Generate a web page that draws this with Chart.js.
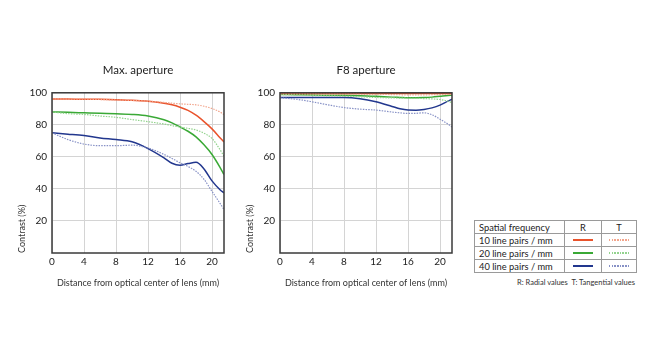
<!DOCTYPE html>
<html>
<head>
<meta charset="utf-8">
<script src="https://cdn.jsdelivr.net/npm/chart.js@4"></script>
<style>
  body { margin: 0; background: #fff; width: 660px; height: 363px; position: relative; font-family: Lato, "Open Sans", sans-serif; color: #222; }
  canvas { position: absolute; top: 0; }
  #legend { position: absolute; left: 474px; top: 220px; border-collapse: collapse; font-size: 9.3px; }
  #legend td { border: 1px solid #9a9a9a; height: 12px; padding: 0 0 0 4px; white-space: nowrap; }
  #legend td.c { text-align: center; padding: 0; }
  .sw { display: block; width: 20px; height: 1.5px; margin: 0 auto; }
  #note { position: absolute; left: 474px; width: 161px; top: 278px; text-align: right; font-size: 7.5px; color: #333; }
</style>
</head>
<body>
<canvas id="maxChart" width="240" height="300" style="left:0"></canvas>
<canvas id="f8Chart" width="240" height="300" style="left:228px"></canvas>

<table id="legend">
  <tr><td style="width:85px">Spatial frequency</td><td class="c" style="width:36px">R</td><td class="c" style="width:34px">T</td></tr>
  <tr><td>10 line pairs / mm</td><td class="c"><span class="sw" id="r10"></span></td><td class="c"><span class="sw" id="t10"></span></td></tr>
  <tr><td>20 line pairs / mm</td><td class="c"><span class="sw" id="r20"></span></td><td class="c"><span class="sw" id="t20"></span></td></tr>
  <tr><td>40 line pairs / mm</td><td class="c"><span class="sw" id="r40"></span></td><td class="c"><span class="sw" id="t40"></span></td></tr>
</table>
<div id="note">R: Radial values&nbsp; T: Tangential values</div>

<script>
// image height positions (mm) where values were read
const distances = [0, 2, 4, 6, 8, 10, 12, 14, 15, 16, 17, 18, 19, 20, 21, 21.5];
const xTicks = [0, 4, 8, 12, 16, 20];
const yTicks = [20, 40, 60, 80, 100];

// Max. aperture
const maxR10 = [96.2, 96.1, 96, 95.9, 95.7, 95.3, 94.8, 93.5, 92.5, 91, 89, 86, 82, 77.5, 72, 69.3];
const maxT10 = [96.2, 96.1, 96, 95.8, 95.5, 95.2, 94.8, 94, 93.5, 93.1, 92.8, 92.5, 91.6, 90.2, 88, 86.4];
const maxR20 = [88, 87.8, 87.5, 87.2, 87, 86.5, 85.5, 83.2, 81.2, 78.7, 76, 72.5, 67.5, 61.5, 53.5, 49];
const maxT20 = [88, 87, 86.5, 85.5, 84.7, 83.3, 82, 80.5, 79.5, 78.6, 77.8, 76.8, 74.8, 71.5, 64.5, 60.4];
const maxR40 = [75, 74.2, 73.3, 71.8, 70.8, 69.4, 65.2, 59.4, 56, 54.8, 55.8, 56.6, 52.5, 45, 39.5, 37.5];
const maxT40 = [75, 70.8, 68, 67, 67, 67.3, 65.6, 61.5, 59, 56.3, 54, 51, 46, 38.5, 31, 27.2];

// F8 aperture
const f8R10 = [99.6, 99.6, 99.6, 99.6, 99.6, 99.6, 99.6, 99.5, 99.5, 99.5, 99.5, 99.5, 99.5, 99.5, 99.5, 99.5];
const f8T10 = [99.3, 99.3, 99.3, 99.2, 99.2, 99.1, 99, 98.9, 98.8, 98.7, 98.7, 98.7, 98.8, 98.9, 99, 99];
const f8R20 = [99, 98.8, 98.6, 98.5, 98.4, 98.2, 97.8, 97.3, 97.1, 96.9, 96.9, 97, 97.3, 97.8, 98.3, 98.5];
const f8T20 = [99, 98.6, 98.3, 98.1, 97.9, 97.5, 97.1, 96.8, 96.7, 96.6, 96.5, 96.4, 96.2, 95.8, 94.8, 93.8];
const f8R40 = [97.1, 97.1, 97.1, 97, 97, 96.3, 94.4, 91.5, 90, 89.2, 89.1, 89.6, 90.6, 92.3, 94.8, 96];
const f8T40 = [96.9, 96, 94.4, 92.5, 90.8, 89.8, 89.2, 88, 87.5, 87.1, 87.2, 87.5, 86.3, 83.5, 80.5, 78.7];

const colR10 = '#e9532c', colT10 = '#f2a58c';
const colR20 = '#3aa936', colT20 = '#93d38e';
const colR40 = '#22378e', colT40 = '#8791c6';

const FONT = 'Lato, "Open Sans", sans-serif';

const framePlugin = {
  id: 'frame',
  afterDatasetsDraw(chart) {
    const a = chart.chartArea, c = chart.ctx;
    c.save();
    c.strokeStyle = '#3a3a3a';
    c.lineWidth = 1.5;
    c.strokeRect(a.left, a.top, a.right - a.left, a.bottom - a.top);
    c.restore();
  }
};

function series(values, color, dotted) {
  return {
    data: values.map((v, i) => ({ x: distances[i], y: v })),
    borderColor: color,
    borderWidth: dotted ? 1.2 : 1.5,
    borderDash: dotted ? [1.5, 1.2] : [],
    pointRadius: 0,
    cubicInterpolationMode: 'monotone',
    fill: false
  };
}

function makeChart(id, title, sets) {
  new Chart(document.getElementById(id), {
    type: 'line',
    data: {
      datasets: [
        series(sets[1], colT10, true),
        series(sets[3], colT20, true),
        series(sets[5], colT40, true),
        series(sets[0], colR10, false),
        series(sets[2], colR20, false),
        series(sets[4], colR40, false)
      ]
    },
    options: {
      responsive: false,
      animation: false,
      layout: { padding: { left: 13, right: 16, top: 63, bottom: 0 } },
      plugins: {
        legend: { display: false },
        tooltip: { enabled: false },
        title: {
          display: true, text: title, fullSize: false, color: '#222',
          font: { family: FONT, size: 11.5, weight: 'normal' },
          padding: { top: 0, bottom: 16 }
        }
      },
      scales: {
        x: {
          type: 'linear', min: 0, max: 21.5,
          afterFit: s => { s.height = 47; },
          afterBuildTicks: s => { s.ticks = xTicks.map(v => ({ value: v })); },
          ticks: { color: '#222', font: { family: FONT, size: 10 }, padding: 3, includeBounds: false },
          grid: { color: '#d4d4d4', drawTicks: false },
          border: { display: false },
          title: {
            display: true, text: 'Distance from optical center of lens (mm)', color: '#333',
            font: { family: FONT, size: 9 }, padding: { top: 4, bottom: 12 }
          }
        },
        y: {
          min: 0, max: 100,
          afterFit: s => { s.width = 39; },
          afterBuildTicks: s => { s.ticks = yTicks.map(v => ({ value: v })); },
          ticks: { color: '#222', font: { family: FONT, size: 10 }, padding: 5 },
          grid: { color: '#d4d4d4', drawTicks: false },
          border: { display: false },
          title: {
            display: true, text: 'Contrast (%)', align: 'start', color: '#333',
            font: { family: FONT, size: 9 }, padding: { top: 4, bottom: 0 }
          }
        }
      }
    },
    plugins: [framePlugin]
  });
}

makeChart('maxChart', 'Max. aperture', [maxR10, maxT10, maxR20, maxT20, maxR40, maxT40]);
makeChart('f8Chart', 'F8 aperture', [f8R10, f8T10, f8R20, f8T20, f8R40, f8T40]);

// legend swatches: solid bars for R, dotted for T
[['r10', colR10, false], ['t10', colT10, true], ['r20', colR20, false],
 ['t20', colT20, true], ['r40', colR40, false], ['t40', colT40, true]].forEach(([id, c, dotted]) => {
  const el = document.getElementById(id);
  el.style.background = dotted
    ? 'repeating-linear-gradient(90deg, ' + c + ' 0 1.5px, transparent 1.5px 2.7px)'
    : c;
});
</script>
</body>
</html>
